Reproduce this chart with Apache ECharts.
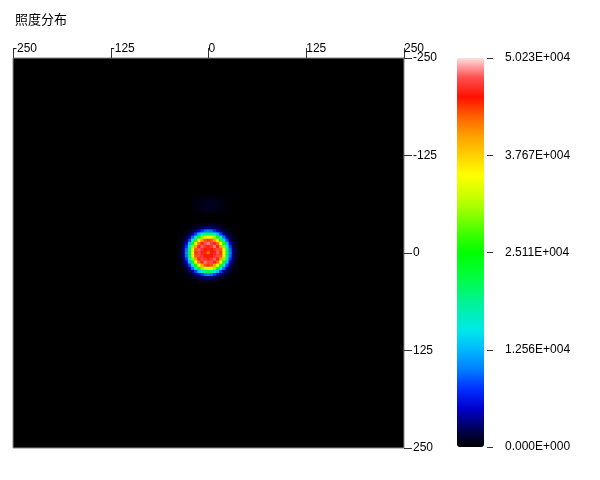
<!DOCTYPE html>
<html><head><meta charset="utf-8">
<script src="https://cdn.jsdelivr.net/npm/echarts@6/dist/echarts.min.js"></script>
<style>html,body{margin:0;padding:0;background:#fff}#c{width:600px;height:480px}</style>
</head><body><div id="c"></div>
<script>
// ---- data ----
const titleText = '照度分布';
const axisTicks = [-250, -125, 0, 125, 250];
const colorbarLabels = ['0.000E+000', '1.256E+004', '2.511E+004', '3.767E+004', '5.023E+004'];
const valueMin = 0;
const valueMax = 50.23;          // illuminance, units of 1000
const cellCount = 125;           // cells across -250..250 (4 units each)
const spotCenterIndex = 62;      // cell holding (0,0)
// illuminance (x1000) of the cells around the spot, rows top->bottom, cols left->right
const spotRows = [
  [0.1,0.1,0.1,0.2,0.3,0.4,0.6,0.8,0.9,0.9,0.9,0.8,0.6,0.4,0.3,0.2,0.1,0.1,0.1],
  [0.1,0.1,0.2,0.3,0.6,1.0,1.6,2.2,2.8,3,2.8,2.2,1.6,1.0,0.6,0.3,0.2,0.1,0.1],
  [0.1,0.2,0.4,0.8,1.5,2.8,5,7.5,9.5,10,9.5,7.5,5,2.8,1.5,0.8,0.4,0.2,0.1],
  [0.2,0.3,0.8,1.7,4,8,13,17,20,21,20,17,13,8,4,1.7,0.8,0.3,0.2],
  [0.3,0.6,1.5,4,9.5,16,24,30,34,35,34,30,24,16,9.5,4,1.5,0.6,0.3],
  [0.4,1.0,2.8,8,16,26,35,40,43,44,43,40,35,26,16,8,2.8,1.0,0.4],
  [0.6,1.6,5,13,24,35,42,46,47.5,48.5,47,46,42,35,24,13,5,1.6,0.6],
  [0.8,2.2,7.5,17,30,40,46,48,46.5,46,46.5,48.5,46,40,30,17,7.5,2.2,0.8],
  [0.9,2.8,9.5,20,34,43,48,46.5,45,44.5,45.5,46.5,47.5,43,34,20,9.5,2.8,0.9],
  [0.9,3,10,21,35,44,47.5,46,44.5,42,45,46,48,44,35,21,10,3,0.9],
  [0.9,2.8,9.5,20,34,43,47.5,46.5,45.5,45,45,46.5,47.5,43,34,20,9.5,2.8,0.9],
  [0.8,2.2,7.5,17,30,40,46,47.5,46.5,46,46.5,48,46,40,30,17,7.5,2.2,0.8],
  [0.6,1.6,5,13,24,35,42,46,48.5,47.5,47.5,46,42,35,24,13,5,1.6,0.6],
  [0.4,1.0,2.8,8,16,26,35,40,43,44,43,40,35,26,16,8,2.8,1.0,0.4],
  [0.3,0.6,1.5,4,9.5,16,24,30,34,35,34,30,24,16,9.5,4,1.5,0.6,0.3],
  [0.2,0.3,0.8,1.7,4,8,13,17,20,21,20,17,13,8,4,1.7,0.8,0.3,0.2],
  [0.1,0.2,0.4,0.8,1.5,2.8,5,7.5,9.5,10,9.5,7.5,5,2.8,1.5,0.8,0.4,0.2,0.1],
  [0.1,0.1,0.2,0.3,0.6,1.0,1.6,2.2,2.8,3,2.8,2.2,1.6,1.0,0.6,0.3,0.2,0.1,0.1],
  [0.1,0.1,0.1,0.2,0.3,0.4,0.6,0.8,0.9,0.9,0.9,0.8,0.6,0.4,0.3,0.2,0.1,0.1,0.1]
];
// faint glow above the spot: first cell offset (columns, rows) from the centre cell
const haloOrigin = [-5, -18];
const haloRows = [
  [0.2,0.3,0.3,0.4,0.4,0.5,0.4,0.4,0.3,0.3,0.2,0.2,0.2],
  [0.2,0.3,0.4,0.5,0.6,0.6,0.6,0.5,0.5,0.4,0.3,0.2,0.2],
  [0.3,0.4,0.5,0.6,0.7,0.8,0.8,0.7,0.6,0.5,0.4,0.3,0.2],
  [0.3,0.4,0.5,0.6,0.8,0.8,0.8,0.8,0.6,0.5,0.4,0.3,0.2],
  [0.2,0.3,0.4,0.5,0.6,0.7,0.7,0.6,0.5,0.4,0.3,0.3,0.2],
  [0.2,0.2,0.3,0.4,0.4,0.5,0.5,0.4,0.4,0.3,0.3,0.2,0.2]
];
const colorStops = ['#000000','#000060','#0000d0','#0030ff','#0080ff','#00b8ff','#00e8e8','#00f0b0','#00f870','#00ff30','#00ff00','#40ff00','#90ff00','#d0ff00','#ffff00','#ffd000','#ffa000','#ff6000','#ff1000','#ff5050','#ffe0e0'];

// ---- build ----
const cats = [];
for (let i = 0; i < cellCount; i++) cats.push(String(i));
const half = (spotRows.length - 1) / 2;
const cells = [];
spotRows.forEach((row, r) => row.forEach((v, c) => {
  cells.push([spotCenterIndex + c - half, spotCenterIndex + r - half, v]);
}));
haloRows.forEach((row, r) => row.forEach((v, c) => {
  cells.push([spotCenterIndex + haloOrigin[0] + c, spotCenterIndex + haloOrigin[1] + r, v]);
}));

const font = "'Liberation Sans', Arial, sans-serif";
const chart = echarts.init(document.getElementById('c'));
chart.setOption({
  animation: false,
  backgroundColor: '#fff',
  title: { text: titleText, left: 15, top: 13, padding: 0,
    textStyle: { fontSize: 13, fontWeight: 'normal', color: '#000', fontFamily: "'Noto Sans CJK SC', sans-serif" } },
  grid: [
    { left: 13, top: 58, width: 391, height: 390, show: true, backgroundColor: '#000', borderColor: '#888', borderWidth: 1 },
    { left: 470, top: 58, width: 17, height: 389, show: false }
  ],
  xAxis: [
    { type: 'category', data: cats, gridIndex: 0, show: false },
    { type: 'value', gridIndex: 0, position: 'top', min: axisTicks[0], max: axisTicks[4], interval: 125,
      axisLine: { show: false, onZero: false }, splitLine: { show: false },
      axisTick: { show: true, length: 10, lineStyle: { color: '#333' } },
      axisLabel: { margin: 3, align: 'left', color: '#000', fontSize: 12, fontFamily: font } },
    { type: 'value', gridIndex: 1, show: false, min: 0, max: 1 }
  ],
  yAxis: [
    { type: 'category', data: cats, gridIndex: 0, inverse: true, show: false },
    { type: 'value', gridIndex: 0, position: 'right', inverse: true, min: axisTicks[0], max: axisTicks[4], interval: 125,
      axisLine: { show: false, onZero: false }, splitLine: { show: false },
      axisTick: { show: true, length: 8, lineStyle: { color: '#333' } },
      axisLabel: { margin: 9, color: '#000', fontSize: 12, fontFamily: font } },
    { type: 'value', gridIndex: 1, position: 'right', min: 0, max: colorbarLabels.length - 1, interval: 1,
      axisLine: { show: false, onZero: false }, splitLine: { show: false },
      axisTick: { show: true, length: 6, lineStyle: { color: '#333', width: 1 } },
      axisLabel: { margin: 18, color: '#000', fontSize: 12, fontFamily: font,
        formatter: v => colorbarLabels[Math.round(v)] } }
  ],
  visualMap: {
    type: 'continuous', min: valueMin, max: valueMax, seriesIndex: 0,
    left: 457, top: 58, itemWidth: 27, itemHeight: 389, padding: 0,
    calculable: false, text: null, showLabel: false, hoverLink: false,
    inRange: { color: colorStops }
  },
  series: [{
    type: 'heatmap', xAxisIndex: 0, yAxisIndex: 0, data: cells,
    itemStyle: { borderWidth: 0 }, emphasis: { disabled: true }
  }]
});
</script></body></html>
